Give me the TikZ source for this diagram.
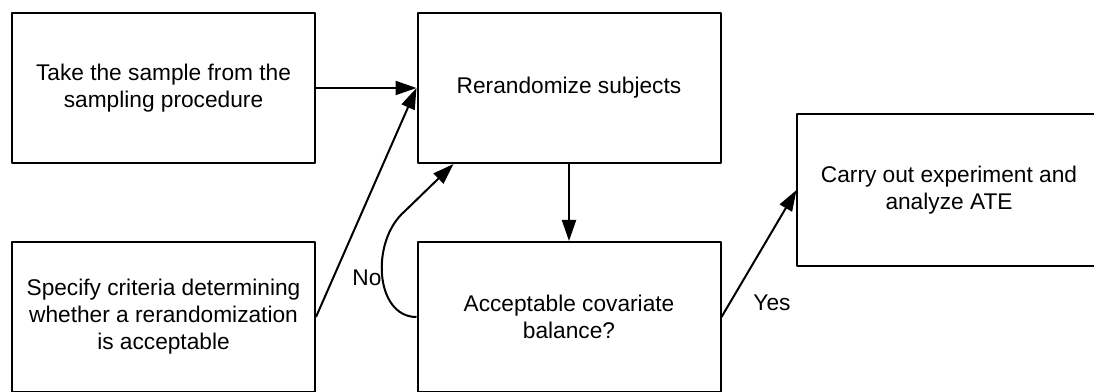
\documentclass[tikz,border=0pt]{standalone}
\usepackage{fontspec}
\setmainfont{Liberation Sans}
\usetikzlibrary{arrows.meta}
\begin{document}
\begin{tikzpicture}[x=1pt, y=1pt, line width=2pt, line join=round, >={Triangle[length=21pt,width=14pt]},
	stepbox/.style={draw, minimum width=303pt, minimum height=150pt, inner sep=0pt, align=center, font=\fontsize{22.7}{27}\selectfont},
	lbl/.style={font=\fontsize{22.7}{27}\selectfont}]
	\useasboundingbox (0,0) rectangle (1094,391);
	\path
	(163.5,303) coordinate (pTake)
	(163.5,74) coordinate (pCrit)
	(569,303) coordinate (pRerand)
	(569,74) coordinate (pBal)
	(949,201) coordinate (pExp)
	;
	\node[stepbox] (take) at (pTake) {Take the sample from the\\sampling procedure};
	\node[stepbox] (crit) at (pCrit) {Specify criteria determining\\whether a rerandomization\\is acceptable};
	\node[stepbox] (rerand) at (pRerand) {Rerandomize subjects};
	\node[stepbox] (bal) at (pBal) {Acceptable covariate\\balance?};
	\node[stepbox, draw=none] (exp) at (pExp) {Carry out experiment and\\analyze ATE};
	% right side of this box lies past the page edge
	\draw ([xshift=20pt]exp.north east)--(exp.north west)--(exp.south west)--([xshift=20pt]exp.south east);
	\coordinate (back) at ([xshift=37pt]rerand.south west);
	\draw[->] (take.east)--(rerand.west);
	\draw[->] (crit.east)--(rerand.west);
	\draw[->] (rerand.south)--(bal.north);
	\draw[->] (bal.west) .. controls (375,74) and (370,150) .. (405,180) -- (back);
	\draw[->] (bal.east)--(exp.west);
	\node[lbl] (no) at (367,113) {No};
	\node[lbl] (yes) at (772,88) {Yes};
\end{tikzpicture}
\end{document}
